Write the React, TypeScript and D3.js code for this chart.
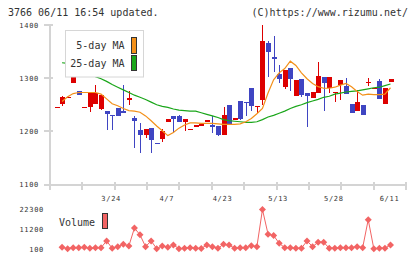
import * as d3 from "d3";

const width = 420;
const height = 259;

// daily prices, oldest first (slot 0 .. 60)
const opens = [
  1245, 1251, 1264, 1290, 1276, 1246, 1246, 1251, 1242, 1238,
  1231, 1243, 1238, 1259, 1226, 1202, 1193, 1206, 1178, 1185,
  1218, 1229, 1229, 1218, 1204, 1209, 1210, 1218, 1211, 1210,
  1193, 1250, 1221, 1257, 1256, 1281, 1245, 1258, 1367, 1339,
  1308, 1284, 1319, 1267, 1298, 1273, 1263, 1273, 1302, 1281,
  1272, 1288, 1285, 1251, 1239, 1250, 1290, 1280, 1295, 1251,
  1293,
];
const highs = [
  1245, 1266, 1264, 1304, 1276, 1246, 1274, 1287, 1268, 1238,
  1231, 1244, 1287, 1276, 1228, 1216, 1205, 1206, 1178, 1204,
  1223, 1229, 1230, 1223, 1204, 1212, 1214, 1221, 1229, 1210,
  1245, 1250, 1226, 1257, 1256, 1281, 1247, 1400, 1370, 1380,
  1325, 1316, 1320, 1296, 1298, 1273, 1274, 1330, 1302, 1302,
  1274, 1296, 1300, 1251, 1278, 1250, 1300, 1282, 1298, 1282,
  1298,
];
const lows = [
  1245, 1248, 1264, 1290, 1269, 1246, 1237, 1251, 1240, 1202,
  1203, 1229, 1235, 1250, 1168, 1160, 1187, 1160, 1176, 1179,
  1218, 1197, 1218, 1201, 1204, 1209, 1210, 1218, 1196, 1191,
  1193, 1214, 1221, 1221, 1228, 1239, 1235, 1250, 1302, 1311,
  1290, 1280, 1275, 1267, 1265, 1208, 1263, 1273, 1238, 1272,
  1256, 1259, 1270, 1234, 1239, 1231, 1285, 1280, 1261, 1251,
  1293,
];
const closes = [
  1245, 1264, 1264, 1304, 1269, 1246, 1273, 1273, 1268, 1232,
  1228, 1229, 1235, 1263, 1220, 1193, 1204, 1184, 1176, 1200,
  1223, 1223, 1218, 1223, 1204, 1212, 1214, 1221, 1209, 1194,
  1231, 1214, 1226, 1224, 1254, 1248, 1247, 1370, 1349, 1336,
  1298, 1315, 1298, 1296, 1268, 1266, 1274, 1304, 1291, 1302,
  1274, 1296, 1270, 1234, 1255, 1231, 1292, 1282, 1261, 1282,
  1298,
];

// moving averages, slot 0 has none
const ma5 = [
  null, 1256, 1265, 1271, 1273, 1273, 1273, 1273, 1270, 1261,
  1252, 1248, 1243, 1239, 1238, 1236, 1229, 1220, 1210, 1201,
  1192, 1198, 1206, 1212, 1216, 1216, 1215, 1215, 1215, 1214,
  1213, 1213, 1213, 1214, 1218, 1224, 1233, 1243, 1272, 1297,
  1310, 1318, 1332, 1324, 1310, 1299, 1290, 1284, 1281, 1281,
  1283, 1287, 1290, 1284, 1275, 1268, 1270, 1269, 1269, 1270,
  1282,
];
const ma25 = [
  null, 1329, 1328, 1323, 1317, 1312, 1307, 1303, 1299, 1294,
  1288, 1283, 1278, 1273, 1268, 1264, 1260, 1255, 1250, 1247,
  1245, 1242, 1240, 1239, 1238, 1238, 1235, 1232, 1229, 1226,
  1222, 1220, 1219, 1218, 1217, 1217, 1218, 1222, 1227, 1230,
  1234, 1238, 1243, 1247, 1250, 1254, 1257, 1260, 1264, 1266,
  1270, 1272, 1274, 1275, 1276, 1278, 1280, 1282, 1283, 1286,
  1289,
];
const volumes = [
  null, 1070, 300, 840, 840, 1070, 500, 840, 840, 4650,
  500, 1410, 2770, 1800, 11880, 8070, 1410, 4650, 300, 1800,
  1070, 2380, 300, 500, 840, 500, 400, 2380, 1410, 500,
  2770, 2380, 500, 840, 840, 1970, 1410, 22300, 8460, 7670,
  3340, 840, 840, 500, 500, 4650, 1410, 3910, 3910, 500,
  500, 840, 840, 840, 1410, 840, 16600, 300, 500, 500,
  2380,
];

const dateLabels = ["3/24", "4/7", "4/23", "5/13", "5/28", "6/11"];
const dateSlots = [10, 20, 30, 40, 50, 60];
const priceTicks = [1100, 1200, 1300, 1400];
const volumeTicks = [100, 11200, 22300];

const UP = "#dd0000";
const DOWN = "#3f45c2";
const MA5_COLOR = "#f39019";
const MA25_COLOR = "#1aa61a";
const VOL_COLOR = "#f26464";
const AXIS = "#d4d4d4";
const TEXT = "#333";
const MONO = "'DejaVu Sans Mono', monospace";

export default function App() {
  const x = d3.scaleLinear().domain([0, 60]).range([56.5, 390.5]);
  const y = d3.scaleLinear().domain([1100, 1400]).range([184.5, 25]);
  const yVol = d3.scaleLinear().domain([100, 22300]).range([249, 209.5]);
  const grid = d3.scaleLinear().domain([0, 11]).range([50, 406]);

  const maLine = d3
    .line<number | null>()
    .defined((d) => d != null)
    .x((_, i) => x(i))
    .y((d) => y(d as number));

  const volLine = d3
    .line<number | null>()
    .defined((d) => d != null)
    .x((_, i) => x(i))
    .y((d) => yVol(d as number));

  const diamond = (cx: number, cy: number, r: number) =>
    `M${cx},${cy - r}L${cx + r},${cy}L${cx},${cy + r}L${cx - r},${cy}Z`;

  const xAxisY = y(1100);

  return (
    <svg
      width={width}
      height={height}
      style={{ position: "absolute", left: 0, top: 0, background: "#fff" }}
      fontFamily={MONO}
    >
      <text x={8} y={16} fontSize={10} fill={TEXT}>
        3766 06/11 16:54 updated.
      </text>
      <text x={408} y={16} fontSize={10} fill={TEXT} textAnchor="end">
        (C)https://www.rizumu.net/
      </text>

      {/* axes */}
      <g shapeRendering="crispEdges">
        <line x1={50} x2={50} y1={25} y2={xAxisY} stroke={AXIS} strokeWidth={2} />
        <line x1={50} x2={406} y1={xAxisY} y2={xAxisY} stroke={AXIS} strokeWidth={2} />
        {priceTicks.map((t) => (
          <line key={t} x1={44} x2={53} y1={y(t)} y2={y(t)} stroke={AXIS} strokeWidth={2} />
        ))}
        {d3.range(12).map((k) => (
          <line
            key={k}
            x1={grid(k)}
            x2={grid(k)}
            y1={xAxisY - 3}
            y2={xAxisY + 5}
            stroke={AXIS}
            strokeWidth={2}
          />
        ))}
      </g>
      {priceTicks.map((t) => (
        <text
          key={t}
          x={39}
          y={y(t) + 2.5}
          fontSize={7}
          letterSpacing={0.7}
          fill={TEXT}
          textAnchor="end"
        >
          {t}
        </text>
      ))}
      {dateLabels.map((d, i) => (
        <text
          key={d}
          x={x(dateSlots[i]) - 1}
          y={201}
          fontSize={7}
          letterSpacing={0.7}
          fill={TEXT}
          textAnchor="middle"
        >
          {d}
        </text>
      ))}

      {/* candles */}
      <g shapeRendering="crispEdges">
        {opens.map((o, i) => {
          const c = closes[i];
          const cx = Math.round(x(i));
          const color = c >= o ? UP : DOWN;
          const top = y(Math.max(o, c));
          const bh = Math.max(1, y(Math.min(o, c)) - top);
          return (
            <g key={i}>
              <rect x={cx} y={y(highs[i])} width={1} height={Math.max(1, y(lows[i]) - y(highs[i]))} fill={color} />
              <rect x={cx - 2} y={top} width={5} height={bh} fill={color} />
            </g>
          );
        })}
      </g>

      <path d={maLine(ma25) ?? ""} fill="none" stroke={MA25_COLOR} strokeWidth={1.2} />
      <path d={maLine(ma5) ?? ""} fill="none" stroke={MA5_COLOR} strokeWidth={1.2} />

      {/* legend */}
      <g>
        <rect x={65.5} y={30.5} width={78} height={46.5} fill="#fff" stroke="#d6d6d6" />
        <text x={124.5} y={49.3} fontSize={10} fill={TEXT} textAnchor="end">
          5-day MA
        </text>
        <text x={124.5} y={67} fontSize={10} fill={TEXT} textAnchor="end">
          25-day MA
        </text>
        <rect x={131.5} y={37.5} width={5} height={16} fill={MA5_COLOR} stroke="#333" />
        <rect x={131.5} y={55.5} width={5} height={15} fill={MA25_COLOR} stroke="#333" />
      </g>

      {/* volume */}
      {volumeTicks.map((t) => (
        <text
          key={t}
          x={44}
          y={yVol(t) + 2.5}
          fontSize={7}
          letterSpacing={0.7}
          fill={TEXT}
          textAnchor="end"
        >
          {t}
        </text>
      ))}
      <text x={59} y={225.5} fontSize={10} fill={TEXT}>
        Volume
      </text>
      <rect x={102.5} y={213.5} width={5} height={15} fill={VOL_COLOR} stroke="#333" />
      <path d={volLine(volumes) ?? ""} fill="none" stroke={VOL_COLOR} strokeWidth={1} />
      {volumes.map((v, i) =>
        v == null ? null : (
          <path key={i} d={diamond(x(i), yVol(v), 3.5)} fill={VOL_COLOR} />
        )
      )}
    </svg>
  );
}
